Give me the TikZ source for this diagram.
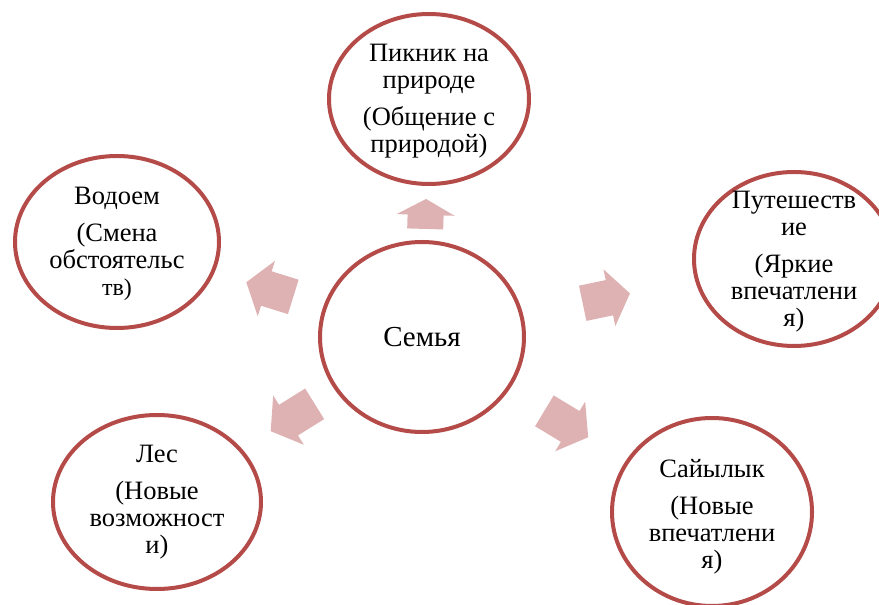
\documentclass[tikz,border=0pt]{standalone}
\usepackage{fontspec}
\setmainfont{Liberation Serif}
\usetikzlibrary{calc,shapes.geometric}
\definecolor{ringred}{RGB}{180,75,72}
\definecolor{arrowpink}{RGB}{222,178,178}
\newcommand{\radarrow}[5][21]{%
	\coordinate (t) at ($(#2)!#4!(#3)$);
	\coordinate (h) at ($(#2)!#5!(#3)$);
	\coordinate (n) at ($(h)!#1pt!(t)$);
	\fill[arrowpink] ($(t)!18pt!90:(h)$) -- ($(n)!18pt!-90:(t)$) -- ($(n)!29pt!-90:(t)$) -- (h) -- ($(n)!29pt!90:(t)$) -- ($(n)!18pt!90:(t)$) -- ($(t)!18pt!-90:(h)$) -- cycle;}
\begin{document}
\begin{tikzpicture}[x=1pt,y=1pt,
	ring/.style={ellipse,draw=ringred,line width=4pt,fill=white,inner sep=0pt},
	txt/.style={align=center,font=\fontsize{26.5}{27}\selectfont,inner sep=0pt}]
	\useasboundingbox (0,0) rectangle (879,605);
	\node[ring,minimum width=204pt,minimum height=190pt,font=\fontsize{29}{30}\selectfont] (fam) at (422,268) {Семья};
	\node[ring,minimum width=200pt,minimum height=170pt] (picnic) at (429,506) {};
	\node[ring,minimum width=204pt,minimum height=172pt] (pond) at (117,363) {};
	\node[ring,minimum width=200pt,minimum height=174pt] (travel) at (794,346) {};
	\node[ring,minimum width=208pt,minimum height=174pt] (forest) at (157,103) {};
	\node[ring,minimum width=200pt,minimum height=188pt] (meadow) at (712,93) {};
	\node[txt] (picnic-text) at ([yshift=-2pt]picnic) {Пикник на\\природе\\[10pt](Общение с\\природой)};
	\node[txt] (pond-text) at ([yshift=-2pt]pond) {Водоем\\[10pt](Смена\\обстоятельс\\{\fontsize{24}{27}\selectfont тв)}};
	\node[txt] (travel-text) at ([yshift=-3pt]travel) {Путешеств\\ие\\[10pt](Яркие\\впечатлени\\я)};
	\node[txt] (forest-text) at (forest) {Лес\\[10pt](Новые\\возможност\\и)};
	\node[txt] (meadow-text) at ([yshift=-5pt]meadow) {Сайылык\\[10pt](Новые\\впечатлени\\я)};
	\radarrow[16]{fam}{picnic}{0.454}{0.58}
	\radarrow{fam}{pond}{0.422}{0.576}
	\radarrow{fam}{travel}{0.432}{0.559}
	\radarrow{fam}{forest}{0.405}{0.571}
	\radarrow{fam}{meadow}{0.422}{0.573}
\end{tikzpicture}
\end{document}
